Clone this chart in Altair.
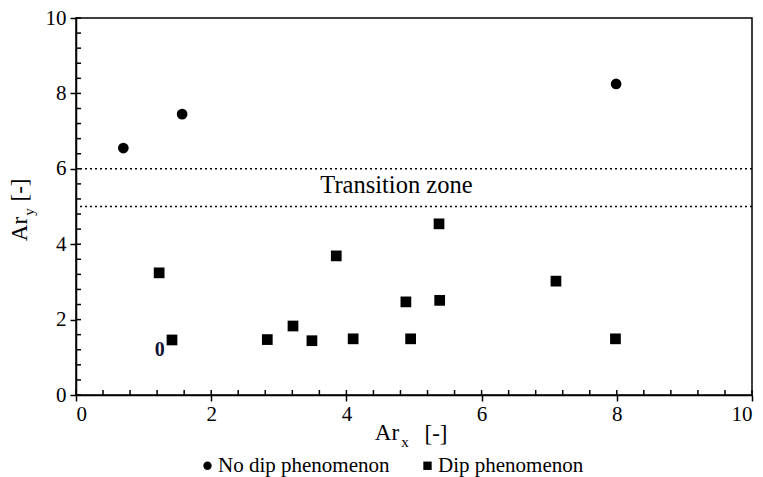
import altair as alt
import pandas as pd

# ---- data ----
no_dip_x = [0.70, 1.57, 7.99]
no_dip_y = [6.55, 7.45, 8.25]
dip_x = [1.23, 1.42, 2.83, 3.21, 3.49, 3.85, 4.10, 4.88, 4.95, 5.38, 5.37, 7.10, 7.98]
dip_y = [3.24, 1.46, 1.47, 1.83, 1.44, 3.69, 1.49, 2.47, 1.49, 2.51, 4.54, 3.02, 1.49]
zone_bounds = [5, 6]
major_ticks = [0, 2, 4, 6, 8, 10]
minor_ticks = [0, 0.4, 0.8, 1.2, 1.6, 2, 2.4, 2.8, 3.2, 3.6, 4, 4.4, 4.8, 5.2, 5.6,
               6, 6.4, 6.8, 7.2, 7.6, 8, 8.4, 8.8, 9.2, 9.6, 10]
labels = ["No dip phenomenon", "Dip phenomenon"]

W, H = 676, 377
FONT = "Liberation Serif"

pts = pd.DataFrame({
    "x": no_dip_x + dip_x,
    "y": no_dip_y + dip_y,
    "type": [labels[0]] * len(no_dip_x) + [labels[1]] * len(dip_x),
})

xs = alt.Scale(domain=[0, 10], nice=False, zero=False)
ys = alt.Scale(domain=[0, 10], nice=False, zero=False)

xaxis = alt.Axis(values=major_ticks, format="d", title=None, grid=False, tickSize=6, tickWidth=1.5,
                 tickColor="black", domainColor="black", domainWidth=1.5,
                 labelFont=FONT, labelFontSize=21, labelColor="black", labelPadding=2)
yaxis = alt.Axis(values=major_ticks, format="d", title=None, grid=False, tickSize=6, tickWidth=1.5,
                 tickColor="black", domainColor="black", domainWidth=1.5,
                 labelFont=FONT, labelFontSize=21, labelColor="black", labelPadding=4)

points = alt.Chart(pts).mark_point(filled=True, size=115, opacity=1, color="black").encode(
    x=alt.X("x:Q", scale=xs, axis=xaxis),
    y=alt.Y("y:Q", scale=ys, axis=yaxis),
    shape=alt.Shape("type:N", sort=labels,
                    scale=alt.Scale(domain=labels, range=["circle", "square"]),
                    legend=alt.Legend(title=None, orient="none", legendX=121, legendY=437,
                                      direction="horizontal", columns=2, padding=0,
                                      labelFont=FONT, labelFontSize=21, labelColor="black",
                                      labelLimit=0,
                                      symbolSize=70, symbolFillColor="black",
                                      symbolStrokeColor="black", labelOffset=0,
                                      columnPadding=27)),
)

zone = alt.Chart(pd.DataFrame({"v": zone_bounds})).mark_rule(
    color="black", strokeWidth=1.5, strokeDash=[2, 3]
).encode(y=alt.Y("v:Q", scale=ys))

zone_text = alt.Chart(pd.DataFrame({"x": [4.74], "y": [5.54], "t": ["Transition zone"]})).mark_text(
    font=FONT, fontSize=24.5, color="black", baseline="middle", align="center"
).encode(x=alt.X("x:Q", scale=xs), y=alt.Y("y:Q", scale=ys), text="t:N")

zero_text = alt.Chart(pd.DataFrame({"x": [1.24], "y": [1.19], "t": ["0"]})).mark_text(
    font=FONT, fontSize=20, fontWeight="bold", color="#111133", baseline="middle", align="center"
).encode(x=alt.X("x:Q", scale=xs), y=alt.Y("y:Q", scale=ys), text="t:N")

tk = pd.DataFrame({"v": minor_ticks})
ytick_in = alt.Chart(tk).mark_rule(color="black", strokeWidth=1.5).encode(
    y=alt.Y("v:Q", scale=ys), x=alt.value(0), x2=alt.value(5))
xtick_in = alt.Chart(tk).mark_rule(color="black", strokeWidth=1.5).encode(
    x=alt.X("v:Q", scale=xs), y=alt.value(H), y2=alt.value(H - 5))

one = pd.DataFrame({"a": [0]})
def txt(t, x, y, size, angle=0):
    return alt.Chart(one).mark_text(text=t, font=FONT, fontSize=size, color="black",
                                    align="center", baseline="middle", angle=angle).encode(
        x=alt.value(x), y=alt.value(y))

titles = [
    txt("Ar", 311, 415, 23),
    txt("x", 329, 424, 15),
    txt("[-]", 360, 416, 23),
    txt("Ar", -56, 211, 23, 270),
    txt("y", -47, 194, 15, 270),
    txt("[-]", -56, 172, 23, 270),
]

chart = alt.layer(zone, ytick_in, xtick_in, points, zone_text, zero_text, *titles).properties(
    width=W, height=H,
    autosize=alt.AutoSizeParams(type="none"),
    padding={"left": 68, "top": 10, "right": 3, "bottom": 82},
).configure_view(stroke="black", strokeWidth=1.5).configure_axis(
    labelFont=FONT).configure_legend(labelFont=FONT)

chart.save("out.html", embed_options={"renderer": "svg", "actions": False})
